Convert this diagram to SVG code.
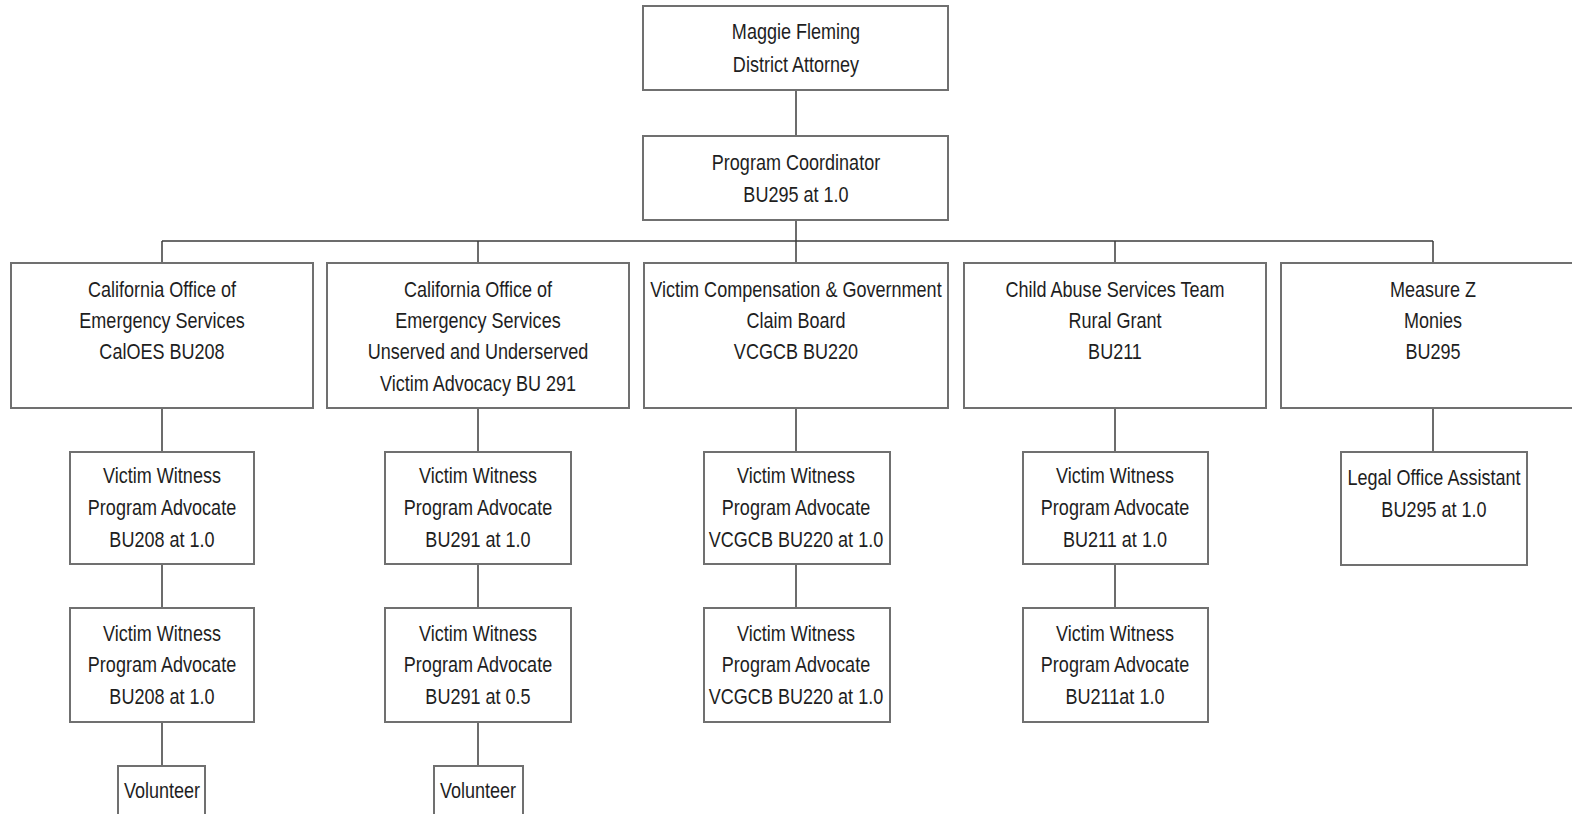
<svg xmlns="http://www.w3.org/2000/svg" width="1572" height="814" viewBox="0 0 1572 814">
<style>
.box{fill:#fff;stroke:#707070;stroke-width:2}
.t{font-family:"Liberation Sans",Arial,sans-serif;font-size:22px;fill:#1e1e1e;text-anchor:middle}
.c{stroke:#3c3c3c;stroke-width:1.5;fill:none}
</style>
<rect width="1572" height="814" fill="#fff"/>
<g id="connectors" class="c">
<path d="M796 90V136M796 220V241M162 241H1433M162 241V263M478 241V263M796 241V263M1115 241V263M1433 241V263"/>
<path d="M162 408V452M478 408V452M796 408V452M1115 408V452M1433 408V452"/>
<path d="M162 564V608M478 564V608M796 564V608M1115 564V608"/>
<path d="M162 722V766M478 722V766"/>
</g>
<g id="n-da"><rect class="box" x="643" y="6" width="305" height="84"/><g class="t" transform="translate(796 0) scale(0.82 1)"><text x="0" y="39">Maggie Fleming</text><text x="0" y="72">District Attorney</text></g></g>
<g id="n-pc"><rect class="box" x="643" y="136" width="305" height="84"/><g class="t" transform="translate(796 0) scale(0.82 1)"><text x="0" y="170">Program Coordinator</text><text x="0" y="202">BU295 at 1.0</text></g></g>
<g id="n-caloes"><rect class="box" x="11" y="263" width="302" height="145"/><g class="t" transform="translate(162 0) scale(0.82 1)"><text x="0" y="297">California Office of</text><text x="0" y="328">Emergency Services</text><text x="0" y="359">CalOES BU208</text></g></g>
<g id="n-bu291"><rect class="box" x="327" y="263" width="302" height="145"/><g class="t" transform="translate(478 0) scale(0.82 1)"><text x="0" y="297">California Office of</text><text x="0" y="328">Emergency Services</text><text x="0" y="359">Unserved and Underserved</text><text x="0" y="391">Victim Advocacy BU 291</text></g></g>
<g id="n-vcgcb"><rect class="box" x="644" y="263" width="304" height="145"/><g class="t" transform="translate(796 0) scale(0.82 1)"><text x="0" y="297">Victim Compensation &amp; Government</text><text x="0" y="328">Claim Board</text><text x="0" y="359">VCGCB BU220</text></g></g>
<g id="n-cast"><rect class="box" x="964" y="263" width="302" height="145"/><g class="t" transform="translate(1115 0) scale(0.82 1)"><text x="0" y="297">Child Abuse Services Team</text><text x="0" y="328">Rural Grant</text><text x="0" y="359">BU211</text></g></g>
<g id="n-mz"><rect class="box" x="1281" y="263" width="302" height="145"/><g class="t" transform="translate(1433 0) scale(0.82 1)"><text x="0" y="297">Measure Z</text><text x="0" y="328">Monies</text><text x="0" y="359">BU295</text></g></g>
<g id="n-a1"><rect class="box" x="70" y="452" width="184" height="112"/><g class="t" transform="translate(162 0) scale(0.82 1)"><text x="0" y="483">Victim Witness</text><text x="0" y="515">Program Advocate</text><text x="0" y="547">BU208 at 1.0</text></g></g>
<g id="n-a2"><rect class="box" x="70" y="608" width="184" height="114"/><g class="t" transform="translate(162 0) scale(0.82 1)"><text x="0" y="641">Victim Witness</text><text x="0" y="672">Program Advocate</text><text x="0" y="704">BU208 at 1.0</text></g></g>
<g id="n-a3"><rect class="box" x="118" y="766" width="87" height="60"/><g class="t" transform="translate(162 0) scale(0.82 1)"><text x="0" y="798">Volunteer</text></g></g>
<g id="n-b1"><rect class="box" x="385" y="452" width="186" height="112"/><g class="t" transform="translate(478 0) scale(0.82 1)"><text x="0" y="483">Victim Witness</text><text x="0" y="515">Program Advocate</text><text x="0" y="547">BU291 at 1.0</text></g></g>
<g id="n-b2"><rect class="box" x="385" y="608" width="186" height="114"/><g class="t" transform="translate(478 0) scale(0.82 1)"><text x="0" y="641">Victim Witness</text><text x="0" y="672">Program Advocate</text><text x="0" y="704">BU291 at 0.5</text></g></g>
<g id="n-b3"><rect class="box" x="434" y="766" width="89" height="60"/><g class="t" transform="translate(478 0) scale(0.82 1)"><text x="0" y="798">Volunteer</text></g></g>
<g id="n-c1"><rect class="box" x="704" y="452" width="186" height="112"/><g class="t" transform="translate(796 0) scale(0.82 1)"><text x="0" y="483">Victim Witness</text><text x="0" y="515">Program Advocate</text><text x="0" y="547">VCGCB BU220 at 1.0</text></g></g>
<g id="n-c2"><rect class="box" x="704" y="608" width="186" height="114"/><g class="t" transform="translate(796 0) scale(0.82 1)"><text x="0" y="641">Victim Witness</text><text x="0" y="672">Program Advocate</text><text x="0" y="704">VCGCB BU220 at 1.0</text></g></g>
<g id="n-d1"><rect class="box" x="1023" y="452" width="185" height="112"/><g class="t" transform="translate(1115 0) scale(0.82 1)"><text x="0" y="483">Victim Witness</text><text x="0" y="515">Program Advocate</text><text x="0" y="547">BU211 at 1.0</text></g></g>
<g id="n-d2"><rect class="box" x="1023" y="608" width="185" height="114"/><g class="t" transform="translate(1115 0) scale(0.82 1)"><text x="0" y="641">Victim Witness</text><text x="0" y="672">Program Advocate</text><text x="0" y="704">BU211at 1.0</text></g></g>
<g id="n-e1"><rect class="box" x="1341" y="452" width="186" height="113"/><g class="t" transform="translate(1434 0) scale(0.82 1)"><text x="0" y="485">Legal Office Assistant</text><text x="0" y="517">BU295 at 1.0</text></g></g>
</svg>
